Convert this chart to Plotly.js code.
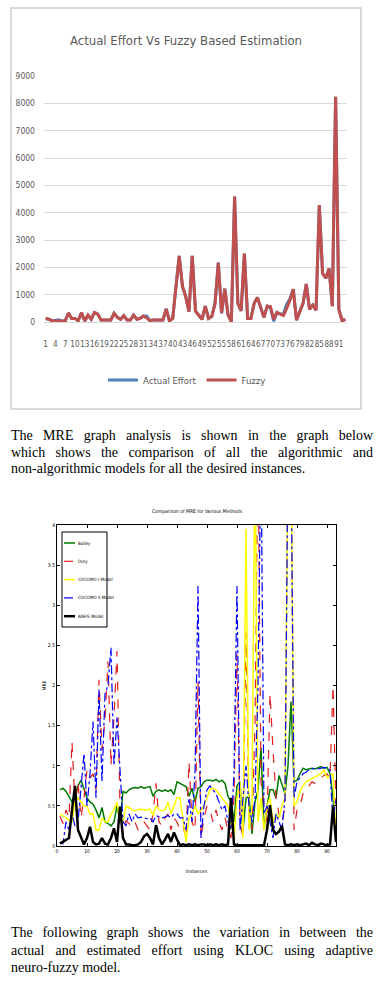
<!DOCTYPE html>
<html><head><meta charset="utf-8">
<script src="https://cdn.plot.ly/plotly-3.0.1.min.js"></script>
<style>
html,body{margin:0;padding:0;background:#fff;width:383px;height:985px;overflow:hidden;}
#frame{position:absolute;left:10px;top:7px;width:348px;height:399px;border:2px solid #d9d9d9;}
#c1{position:absolute;left:0;top:0;width:383px;height:415px;}
#c2{position:absolute;left:0;top:490px;width:383px;height:410px;}
.ln{position:absolute;left:11px;width:362px;font-family:"Liberation Serif","Times New Roman",serif;font-size:14px;line-height:17px;color:#000;white-space:nowrap;}
.j{text-align:justify;text-align-last:justify;white-space:normal;}
</style></head><body>
<div id="frame"></div>
<div id="c1"></div>
<div class="ln j" style="top:427px">The MRE graph analysis is shown in the graph below</div>
<div class="ln j" style="top:444px">which shows the comparison of all the algorithmic and</div>
<div class="ln" style="top:460px">non-algorithmic models for all the desired instances.</div>
<div id="c2"></div>
<div class="ln j" style="top:924px">The following graph shows the variation in between the</div>
<div class="ln j" style="top:942px">actual and estimated effort using KLOC using adaptive</div>
<div class="ln" style="top:959px">neuro-fuzzy model.</div>
<script>
// ---------- Chart 1 data ----------
const projects = Array.from({length: 93}, (_, i) => i + 1);
const actualEffort = [130,100,40,60,80,40,40,330,130,130,50,340,40,250,100,350,290,70,70,70,70,320,170,100,230,70,70,250,100,130,220,220,50,70,70,70,70,480,40,130,1250,2420,1300,930,380,2420,400,250,100,580,130,200,680,2170,320,1220,250,10,4590,680,410,2500,130,130,680,900,500,170,580,520,30,350,290,300,650,850,1200,70,380,680,1390,460,620,430,4280,1780,1600,1960,580,8240,460,50,100];
const fuzzy = [130,100,40,40,40,40,40,330,130,130,50,340,40,250,100,350,290,70,70,70,70,320,170,100,230,70,70,250,100,130,220,150,50,70,70,70,70,480,40,130,1250,2420,1300,930,380,2420,400,250,100,580,130,200,680,2170,320,1220,250,10,4590,680,410,2500,130,130,680,900,500,170,580,560,100,350,290,240,500,800,1200,70,380,680,1390,460,620,430,4280,1780,1600,1960,580,8240,460,50,100];
const xTickVals1 = [1,4,7,10,13,16,19,22,25,28,31,34,37,40,43,46,49,52,55,58,61,64,67,70,73,76,79,82,85,88,91];
const yTickVals1 = [0,1000,2000,3000,4000,5000,6000,7000,8000,9000];

// ---------- Chart 2 data ----------
const instances = Array.from({length: 93}, (_, i) => i + 1);
const bailey = [0.7,0.72,0.68,0.62,0.55,0.6,0.75,0.82,0.72,0.6,0.55,0.52,0.45,0.35,0.48,0.3,0.28,0.25,0.3,0.5,0.3,0.68,0.66,0.7,0.72,0.73,0.72,0.74,0.72,0.73,0.74,0.62,0.68,0.7,0.68,0.7,0.68,0.7,0.64,0.8,0.78,0.75,0.74,0.62,0.72,0.55,0.72,0.74,0.8,0.82,0.82,0.81,0.83,0.8,0.82,0.78,0.62,0.55,0.3,0.75,0.8,0.2,0.6,0.62,0.15,0.55,0.7,1.22,0.2,0.5,0.7,0.7,0.6,0.88,0.75,0.65,1.0,1.8,0.8,0.82,0.9,0.97,0.95,0.96,0.97,0.96,0.98,0.99,0.97,0.98,0.9,0.6,0.05];
const doty = [0.37,0.28,0.45,0.35,1.3,0.5,0.8,0.35,0.6,0.95,0.85,0.9,0.7,2.07,1.2,1.57,2.3,1.0,1.6,2.43,0.45,0.16,0.32,0.28,0.24,0.3,0.2,0.25,0.3,0.25,0.2,0.4,0.78,0.3,0.25,0.35,0.4,0.2,0.35,0.3,0.2,0.25,0.1,1.05,0.3,0.2,2.05,0.1,0.35,0.5,0.45,0.3,0.45,0.3,0.2,0.35,0.2,0.1,0.6,2.4,0.3,0.1,2.66,0.3,0.2,1.5,5,0.8,0.5,0.3,1.9,1.2,0.6,0.4,0.3,0.5,5,5,0.2,0.45,0.5,0.65,0.7,0.75,0.8,0.78,0.82,0.85,0.88,0.9,0.85,2.0,0.5];
const cocomo1 = [0.4,0.38,0.35,0.32,0.3,0.55,0.6,0.55,0.5,0.5,0.4,0.4,0.2,0.2,0.35,0.3,0.3,0.4,0.45,0.55,0.3,0.3,0.5,0.48,0.45,0.44,0.45,0.46,0.45,0.45,0.46,0.38,0.5,0.45,0.44,0.45,0.55,0.4,0.5,0.6,0.6,0.3,0.05,0.35,0.4,0.5,0.4,0.45,0.5,0.6,0.7,0.72,0.7,0.65,0.6,0.55,0.5,0.3,0.1,0.6,0.8,0.1,3.95,0.2,0.5,5,0.3,0.6,0.2,0.5,0.6,0.3,0.4,0.35,0.5,0.6,5,5,0.5,0.55,0.68,0.75,0.8,0.82,0.84,0.86,0.88,0.9,0.95,0.85,0.88,0.9,0.1];
const cocomo2 = [0.05,0.03,0.3,0.2,0.4,0.25,0.3,0.7,1.15,0.5,0.9,1.55,0.6,1.95,0.8,1.9,2.0,2.47,1.0,1.6,0.9,0.3,0.25,0.4,0.3,0.4,0.35,0.36,0.35,0.34,0.35,0.3,0.38,0.36,0.35,0.36,0.38,0.35,0.4,0.4,0.35,0.35,0.2,0.6,0.3,0.9,3.24,0.1,0.5,0.7,0.75,0.7,0.65,0.55,0.45,0.5,0.3,0.2,0.9,3.24,0.2,0.6,1.0,0.5,0.3,0.6,2.0,5,0.4,0.5,0.3,0.1,0.4,0.3,0.2,0.6,5,5,0.6,0.8,0.85,0.9,0.92,0.95,0.96,0.97,0.96,0.97,0.98,0.97,0.95,0.3,0.6];
const anfis = [0.03,0.05,0.08,0.1,0.45,0.75,0.2,0.1,0.02,0.1,0.24,0.05,0.02,0.03,0.1,0.03,0.02,0.1,0.22,0.05,0.49,0.1,0.02,0.02,0.01,0.01,0.02,0.05,0.12,0.15,0.1,0.02,0.26,0.1,0.02,0.08,0.15,0.05,0.17,0.08,0.01,0.02,0.01,0.02,0.01,0.02,0.01,0.02,0.02,0.01,0.02,0.01,0.02,0.01,0.02,0.01,0.02,0.6,0.02,0.01,0.01,0.01,0.01,0.01,0.01,0.01,0.01,0.01,0.01,0.2,0.51,0.2,0.15,0.18,0.25,0.02,0.01,0.02,0.01,0.02,0.01,0.02,0.03,0.01,0.04,0.02,0.01,0.03,0.02,0.01,0.02,0.49,0.05];
const seriesNames2 = ['Bailey', 'Doty', 'COCOMO I Model', 'COCOMO II Model', 'ANFIS Model'];
const xTickVals2 = [0,10,20,30,40,50,60,70,80,90];
const yTickVals2 = [0,0.5,1,1.5,2,2.5,3,3.5,4];
const yTickText2 = ['0','0.5','1','1.5','2','2.5','3','3.5','4'];

const narrow = '"DejaVu Sans Condensed","Liberation Sans Narrow",sans-serif';

Plotly.newPlot('c1', [
  {x: projects, y: actualEffort, type: 'scatter', mode: 'lines', name: 'Actual Effort',
   line: {color: '#4F81BD', width: 3}},
  {x: projects, y: fuzzy, type: 'scatter', mode: 'lines', name: 'Fuzzy',
   line: {color: '#C0504D', width: 3}}
], {
  width: 383, height: 415,
  margin: {l: 44, r: 36, t: 76, b: 93},
  paper_bgcolor: 'rgba(0,0,0,0)', plot_bgcolor: 'rgba(0,0,0,0)',
  title: {text: 'Actual Effort Vs Fuzzy Based Estimation', x: 186/383, xanchor: 'center', y: 1-40/415, yanchor: 'middle',
          font: {family: narrow, size: 13, color: '#595959'}},
  xaxis: {range: [0.5, 93.5], tickmode: 'array', tickvals: xTickVals1, ticktext: xTickVals1.map(String),
          tickangle: 0, showgrid: false, zeroline: false, showline: true, linecolor: '#d9d9d9', linewidth: 1,
          ticks: '', tickfont: {family: narrow, size: 8, color: '#595959'}, ticklabelstandoff: 14},
  yaxis: {range: [0, 9000], tickmode: 'array', tickvals: yTickVals1, ticktext: yTickVals1.map(String),
          showgrid: true, gridcolor: '#d9d9d9', gridwidth: 1, zeroline: false, showline: false, ticks: '',
          tickfont: {family: narrow, size: 8.5, color: '#595959'}, ticklabelstandoff: 8},
  showlegend: true,
  legend: {orientation: 'h', x: 187/383, xref: 'container', xanchor: 'center', y: 1-380/415, yref: 'container', yanchor: 'middle',
           font: {family: narrow, size: 9.5, color: '#595959'}, itemwidth: 30, bgcolor: 'rgba(0,0,0,0)'}
}, {staticPlot: true, displayModeBar: false});

const f2 = {family: narrow, size: 5, color: '#000'};
const fLeg = {family: narrow, size: 4.5, color: '#000'};
const styles2 = [
  {color: '#007a00', width: 1.5},
  {color: '#e02020', width: 1.2, dash: 'dash'},
  {color: '#ffff00', width: 1.5},
  {color: '#0000ff', width: 1.2, dash: 'dashdot'},
  {color: '#000000', width: 2.5}
];
const data2 = [bailey, doty, cocomo1, cocomo2, anfis];
const traces2 = data2.map((d, k) => ({x: instances, y: d, type: 'scatter', mode: 'lines', name: seriesNames2[k], line: styles2[k], showlegend: false}));

// legend box drawn in plot-area pixels (plot area: 279 x 321)
const PW = 279, PH = 321;
const px = v => v / PW, py = v => 1 - v / PH;
const legShapes = [{type: 'rect', xref: 'paper', yref: 'paper', x0: px(5), x1: px(50), y0: py(7), y1: py(102),
                    fillcolor: '#fff', line: {color: '#000', width: 1}}];
const legAnn = [];
seriesNames2.forEach((nm, k) => {
  const yy = 18 + k * 18.3;
  const st = styles2[k];
  legShapes.push({type: 'line', xref: 'paper', yref: 'paper', x0: px(7), x1: px(18), y0: py(yy), y1: py(yy),
                  line: {color: st.color, width: st.width, dash: st.dash || 'solid'}});
  legAnn.push({xref: 'paper', yref: 'paper', x: px(19), y: py(yy), xanchor: 'left', yanchor: 'middle',
               text: nm, showarrow: false, font: fLeg});
});

Plotly.newPlot('c2', traces2, {
  width: 383, height: 410,
  margin: {l: 57, r: 47, t: 35, b: 54},
  paper_bgcolor: 'rgba(0,0,0,0)', plot_bgcolor: 'rgba(0,0,0,0)',
  title: {text: 'Comparison of MRE for Various Methods', x: 197/383, xanchor: 'center', y: 1-21/410, yanchor: 'middle', font: f2},
  xaxis: {range: [0, 93], tickmode: 'array', tickvals: xTickVals2, ticktext: xTickVals2.map(String), tickangle: 0,
          showgrid: false, zeroline: false, showline: true, mirror: 'ticks', linecolor: '#000', linewidth: 1,
          ticks: 'inside', ticklen: 3, tickcolor: '#000', tickfont: f2,
          title: {text: 'Instances', font: f2, standoff: 16}},
  yaxis: {range: [0, 4], tickmode: 'array', tickvals: yTickVals2, ticktext: yTickText2,
          showgrid: false, zeroline: false, showline: true, mirror: 'ticks', linecolor: '#000', linewidth: 1,
          ticks: 'inside', ticklen: 3, tickcolor: '#000', tickfont: f2,
          title: {text: 'MRE', font: f2, standoff: 1}},
  showlegend: false,
  shapes: legShapes,
  annotations: legAnn
}, {staticPlot: true, displayModeBar: false});
</script>
</body></html>
